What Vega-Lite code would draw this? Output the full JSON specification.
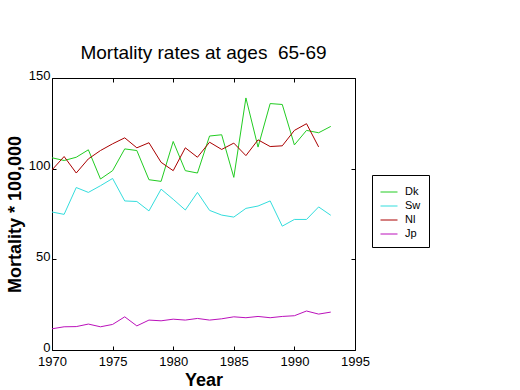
{
  "$schema": "https://vega.github.io/schema/vega-lite/v6.json",
  "autosize": "none",
  "width": 303,
  "height": 272,
  "padding": {"left": 52, "top": 78, "right": 165, "bottom": 40},
  "background": "white",
  "config": {
    "font": "Liberation Sans",
    "view": {"stroke": "black", "strokeWidth": 1},
    "axis": {"grid": false, "domain": false, "labelColor": "black", "tickColor": "black", "labelFontSize": 13, "labelFont": "Liberation Sans", "titleFont": "Liberation Sans", "titleFontSize": 18, "titleFontWeight": "bold", "titleColor": "black", "labelFlush": false}
  },
  "title": {"text": "Mortality rates at ages\u00a0 65-69", "fontSize": 19, "fontWeight": "normal", "font": "Liberation Sans", "color": "black", "anchor": "middle", "offset": 6},
  "data": {"values": [
    {"year": 1970, "country": "Dk", "value": 106.0},
    {"year": 1971, "country": "Dk", "value": 104.5},
    {"year": 1972, "country": "Dk", "value": 106.3},
    {"year": 1973, "country": "Dk", "value": 110.4},
    {"year": 1974, "country": "Dk", "value": 94.3},
    {"year": 1975, "country": "Dk", "value": 98.9},
    {"year": 1976, "country": "Dk", "value": 110.9},
    {"year": 1977, "country": "Dk", "value": 110.0},
    {"year": 1978, "country": "Dk", "value": 93.9},
    {"year": 1979, "country": "Dk", "value": 93.0},
    {"year": 1980, "country": "Dk", "value": 115.0},
    {"year": 1981, "country": "Dk", "value": 98.9},
    {"year": 1982, "country": "Dk", "value": 97.6},
    {"year": 1983, "country": "Dk", "value": 118.0},
    {"year": 1984, "country": "Dk", "value": 118.7},
    {"year": 1985, "country": "Dk", "value": 95.2},
    {"year": 1986, "country": "Dk", "value": 139.0},
    {"year": 1987, "country": "Dk", "value": 111.9},
    {"year": 1988, "country": "Dk", "value": 135.9},
    {"year": 1989, "country": "Dk", "value": 135.4},
    {"year": 1990, "country": "Dk", "value": 113.1},
    {"year": 1991, "country": "Dk", "value": 121.1},
    {"year": 1992, "country": "Dk", "value": 119.8},
    {"year": 1993, "country": "Dk", "value": 123.3},
    {"year": 1970, "country": "Sw", "value": 76.1},
    {"year": 1971, "country": "Sw", "value": 74.8},
    {"year": 1972, "country": "Sw", "value": 89.6},
    {"year": 1973, "country": "Sw", "value": 86.9},
    {"year": 1974, "country": "Sw", "value": 90.6},
    {"year": 1975, "country": "Sw", "value": 94.6},
    {"year": 1976, "country": "Sw", "value": 82.2},
    {"year": 1977, "country": "Sw", "value": 81.9},
    {"year": 1978, "country": "Sw", "value": 76.7},
    {"year": 1979, "country": "Sw", "value": 88.7},
    {"year": 1980, "country": "Sw", "value": 83.1},
    {"year": 1981, "country": "Sw", "value": 77.2},
    {"year": 1982, "country": "Sw", "value": 86.9},
    {"year": 1983, "country": "Sw", "value": 77.0},
    {"year": 1984, "country": "Sw", "value": 74.4},
    {"year": 1985, "country": "Sw", "value": 73.3},
    {"year": 1986, "country": "Sw", "value": 78.1},
    {"year": 1987, "country": "Sw", "value": 79.4},
    {"year": 1988, "country": "Sw", "value": 82.2},
    {"year": 1989, "country": "Sw", "value": 68.3},
    {"year": 1990, "country": "Sw", "value": 72.0},
    {"year": 1991, "country": "Sw", "value": 72.0},
    {"year": 1992, "country": "Sw", "value": 78.9},
    {"year": 1993, "country": "Sw", "value": 74.3},
    {"year": 1970, "country": "Nl", "value": 99.3},
    {"year": 1971, "country": "Nl", "value": 106.7},
    {"year": 1972, "country": "Nl", "value": 97.6},
    {"year": 1973, "country": "Nl", "value": 105.4},
    {"year": 1974, "country": "Nl", "value": 110.0},
    {"year": 1975, "country": "Nl", "value": 113.7},
    {"year": 1976, "country": "Nl", "value": 117.0},
    {"year": 1977, "country": "Nl", "value": 111.5},
    {"year": 1978, "country": "Nl", "value": 114.3},
    {"year": 1979, "country": "Nl", "value": 103.5},
    {"year": 1980, "country": "Nl", "value": 98.9},
    {"year": 1981, "country": "Nl", "value": 111.5},
    {"year": 1982, "country": "Nl", "value": 106.3},
    {"year": 1983, "country": "Nl", "value": 114.6},
    {"year": 1984, "country": "Nl", "value": 110.6},
    {"year": 1985, "country": "Nl", "value": 114.1},
    {"year": 1986, "country": "Nl", "value": 107.2},
    {"year": 1987, "country": "Nl", "value": 115.9},
    {"year": 1988, "country": "Nl", "value": 112.2},
    {"year": 1989, "country": "Nl", "value": 112.6},
    {"year": 1990, "country": "Nl", "value": 121.1},
    {"year": 1991, "country": "Nl", "value": 124.8},
    {"year": 1992, "country": "Nl", "value": 112.0},
    {"year": 1970, "country": "Jp", "value": 11.7},
    {"year": 1971, "country": "Jp", "value": 12.8},
    {"year": 1972, "country": "Jp", "value": 12.9},
    {"year": 1973, "country": "Jp", "value": 14.3},
    {"year": 1974, "country": "Jp", "value": 12.8},
    {"year": 1975, "country": "Jp", "value": 14.1},
    {"year": 1976, "country": "Jp", "value": 18.3},
    {"year": 1977, "country": "Jp", "value": 13.3},
    {"year": 1978, "country": "Jp", "value": 16.5},
    {"year": 1979, "country": "Jp", "value": 16.1},
    {"year": 1980, "country": "Jp", "value": 17.0},
    {"year": 1981, "country": "Jp", "value": 16.5},
    {"year": 1982, "country": "Jp", "value": 17.4},
    {"year": 1983, "country": "Jp", "value": 16.5},
    {"year": 1984, "country": "Jp", "value": 17.2},
    {"year": 1985, "country": "Jp", "value": 18.3},
    {"year": 1986, "country": "Jp", "value": 17.8},
    {"year": 1987, "country": "Jp", "value": 18.5},
    {"year": 1988, "country": "Jp", "value": 17.8},
    {"year": 1989, "country": "Jp", "value": 18.5},
    {"year": 1990, "country": "Jp", "value": 18.9},
    {"year": 1991, "country": "Jp", "value": 21.5},
    {"year": 1992, "country": "Jp", "value": 19.8},
    {"year": 1993, "country": "Jp", "value": 20.9}
  ]},
  "layer": [
    {
      "mark": {"type": "line", "strokeWidth": 1, "clip": true},
      "encoding": {
        "x": {"field": "year", "type": "quantitative", "scale": {"domain": [1970, 1995], "nice": false, "zero": false},
              "axis": {"orient": "bottom", "title": "Year", "values": [1970, 1975, 1980, 1985, 1990, 1995], "format": "d", "tickSize": -4, "labelPadding": 9, "titlePadding": 3, "labelOverlap": false}},
        "y": {"field": "value", "type": "quantitative", "scale": {"domain": [0, 150], "nice": false},
              "axis": {"orient": "left", "title": "Mortality * 100,000", "values": [0, 50, 100, 150], "tickSize": -4, "labelPadding": 6, "titlePadding": 4, "labelOverlap": false, "labelOffset": -3}},
        "color": {"field": "country", "type": "nominal",
                  "scale": {"domain": ["Dk", "Sw", "Nl", "Jp"], "range": ["#22cc22", "#33dddd", "#aa0000", "#bb11bb"]},
                  "legend": {"title": null, "orient": "none", "legendX": 320, "legendY": 97, "strokeColor": "black", "padding": 8, "symbolType": "stroke", "symbolSize": 289, "symbolStrokeWidth": 1, "labelFontSize": 11, "labelColor": "black", "rowPadding": -5, "labelOffset": 7, "fillColor": "white"}}
      }
    },
    {
      "mark": {"type": "rule", "opacity": 0},
      "encoding": {
        "x": {"field": "year", "type": "quantitative", "aggregate": "min",
              "axis": {"orient": "top", "title": null, "labels": false, "values": [1970, 1975, 1980, 1985, 1990, 1995], "tickSize": -4}},
        "y": {"field": "value", "type": "quantitative", "aggregate": "min",
              "axis": {"orient": "right", "title": null, "labels": false, "values": [0, 50, 100, 150], "tickSize": -4}}
      }
    }
  ],
  "resolve": {"axis": {"x": "independent", "y": "independent"}}
}
